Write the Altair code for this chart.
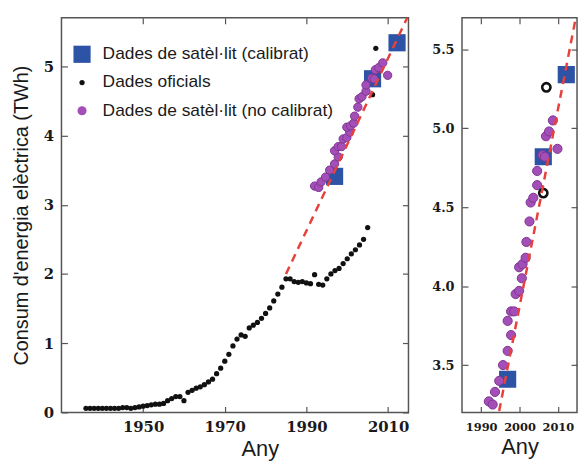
import altair as alt
import pandas as pd

# ---------------- data ----------------
anys_oficials = list(range(1936, 2006))
valors_oficials = [
    0.06, 0.06, 0.06, 0.06, 0.06, 0.06, 0.06, 0.06, 0.06, 0.07,
    0.07, 0.06, 0.07, 0.08, 0.09, 0.10, 0.11, 0.12, 0.12, 0.13,
    0.17, 0.20, 0.23, 0.23, 0.17, 0.29, 0.32, 0.35, 0.37, 0.40,
    0.44, 0.48, 0.56, 0.64, 0.74, 0.84, 0.96, 1.06, 1.12, 1.10,
    1.22, 1.26, 1.30, 1.36, 1.43, 1.51, 1.61, 1.71, 1.81, 1.93,
    1.93, 1.89, 1.88, 1.89, 1.87, 1.86, 1.99, 1.85, 1.84, 1.93,
    2.00, 2.05, 2.08, 2.15, 2.22, 2.29, 2.35, 2.42, 2.50, 2.67,
]
anys_oficials_recents = [2006.2, 2007.0]
valors_oficials_recents = [4.59, 5.26]

anys_sat_no_cal = [
    1992.0, 1993.0, 1993.6, 1994.7, 1995.7, 1996.9, 1997.8, 1996.9,
    1997.8, 1998.6, 1999.0, 1999.9, 2000.6, 1999.9, 2000.8, 2001.6,
    2001.8, 2002.6, 2002.9, 2003.6, 2004.6, 2004.6, 2006.0, 2006.6,
    2006.9, 2007.7, 2008.7, 2009.9,
]
valors_sat_no_cal = [
    3.27, 3.25, 3.33, 3.40, 3.50, 3.59, 3.69, 3.78,
    3.84, 3.84, 3.95, 3.97, 4.05, 4.12, 4.14, 4.18,
    4.28, 4.41, 4.53, 4.56, 4.64, 4.73, 4.83, 4.82,
    4.95, 4.98, 5.05, 4.87,
]
anys_sat_cal = [1996.9, 2006.2, 2012.2]
valors_sat_cal = [3.41, 4.82, 5.34]

anys_tendencia = [1985, 2015]
valors_tendencia = [2.0, 5.74]

S_CAL = "Dades de satèl·lit (calibrat)"
S_OF = "Dades oficials"
S_NC = "Dades de satèl·lit (no calibrat)"
series = [S_CAL, S_OF, S_NC]

BLUE = "#2c53a6"
BLACK = "#111111"
PURPLE = "#a44fb8"
PURPLE_EDGE = "#7d3592"
RED = "#e8403a"

df_cal = pd.DataFrame({"any": anys_sat_cal, "valor": valors_sat_cal, "serie": S_CAL})
df_of = pd.DataFrame({"any": anys_oficials + anys_oficials_recents,
                      "valor": valors_oficials + valors_oficials_recents, "serie": S_OF})
df_nc = pd.DataFrame({"any": anys_sat_no_cal, "valor": valors_sat_no_cal, "serie": S_NC})
df_tend = pd.DataFrame({"any": anys_tendencia, "valor": valors_tendencia})
df_rec = pd.DataFrame({"any": anys_oficials_recents, "valor": valors_oficials_recents})

# ---------------- styles ----------------
TICK = dict(domain=False, grid=False, ticks=True, tickSize=6, offset=-6,
            tickColor="#555555", tickWidth=1.2)
LAB = dict(labelFont="DejaVu Serif", labelColor="#1a1a1a", labelFontWeight="bold")
TIT = dict(titleFont="Liberation Sans", titleFontWeight="normal", titleColor="#1a1a1a")

color_enc = alt.Color(
    "serie:N",
    scale=alt.Scale(domain=series, range=[BLUE, BLACK, PURPLE]),
    legend=alt.Legend(
        orient="none", legendX=12, legendY=28, title=None,
        labelFont="Liberation Sans", labelFontSize=17.5, labelColor="#1a1a1a",
        labelOffset=12, labelLimit=400, rowPadding=9.5, padding=0,
        symbolStrokeWidth=0,
        symbolSize=alt.ExprRef(
            expr="datum.index === 0 ? 300 : (datum.index === 1 ? 28 : 85)"),
    ),
)
shape_enc = alt.Shape("serie:N", scale=alt.Scale(domain=series, range=["square", "circle", "circle"]))

# ---------------- left panel ----------------
xl = alt.Scale(domain=[1930, 2015], nice=False, zero=False)
yl = alt.Scale(domain=[0, 5.7], nice=False, zero=False)

cal_l = alt.Chart(df_cal).mark_point(filled=True, size=300, opacity=1).encode(
    x=alt.X("any:Q", scale=xl, axis=alt.Axis(
        values=[1950, 1970, 1990, 2010], format="d", title="Any",
        labelFontSize=15, labelPadding=7, titleFontSize=22, titlePadding=4,
        titleX=200, **TICK, **LAB, **TIT)),
    y=alt.Y("valor:Q", scale=yl, axis=alt.Axis(
        values=[0, 1, 2, 3, 4, 5], format="d",
        title="Consum d'energia elèctrica (TWh)",
        labelFontSize=15, labelPadding=8, titleFontSize=20, titlePadding=12,
        **TICK, **LAB, **TIT)),
    color=color_enc, shape=shape_enc,
)
of_l = alt.Chart(df_of).mark_point(filled=True, size=28, opacity=1).encode(
    x=alt.X("any:Q", scale=xl, axis=None),
    y=alt.Y("valor:Q", scale=yl, axis=None),
    color=color_enc, shape=shape_enc,
)
nc_l = alt.Chart(df_nc).mark_point(filled=True, size=70, opacity=1, stroke=PURPLE_EDGE,
                                   strokeWidth=1).encode(
    x=alt.X("any:Q", scale=xl, axis=None),
    y=alt.Y("valor:Q", scale=yl, axis=None),
    color=color_enc, shape=shape_enc,
)
linia_l = alt.Chart(df_tend).mark_line(color=RED, strokeWidth=2.5, strokeDash=[8, 6], clip=True).encode(
    x=alt.X("any:Q", scale=xl, axis=alt.Axis(orient="top", values=[1950, 1970, 1990, 2010],
                                             labels=False, title=None, **TICK)),
    y=alt.Y("valor:Q", scale=yl, axis=alt.Axis(orient="right", values=[0, 1, 2, 3, 4, 5],
                                               labels=False, title=None, **TICK)),
)

left = alt.layer(cal_l, of_l, nc_l, linia_l).resolve_axis(x="independent", y="independent").properties(
    width=350, height=398)

# ---------------- right panel ----------------
xr = alt.Scale(domain=[1985, 2015], nice=False, zero=False)
yr = alt.Scale(domain=[3.2, 5.7], nice=False, zero=False)

cal_r = alt.Chart(df_cal).mark_point(filled=True, shape="square", size=300, color=BLUE,
                                     opacity=1, clip=True).encode(
    x=alt.X("any:Q", scale=xr, axis=alt.Axis(
        values=[1990, 2000, 2010], format="d", title="Any",
        labelFontSize=11.5, labelPadding=9, titleFontSize=22, titlePadding=4,
        **TICK, **LAB, **TIT)),
    y=alt.Y("valor:Q", scale=yr, axis=alt.Axis(
        values=[3.5, 4.0, 4.5, 5.0, 5.5], format=".1f", title=None,
        labelFontSize=13, labelPadding=8, **TICK, **LAB)),
)
nc_r = alt.Chart(df_nc).mark_point(filled=True, shape="circle", size=85, color=PURPLE,
                                   stroke=PURPLE_EDGE, strokeWidth=1, opacity=1,
                                   clip=True).encode(
    x=alt.X("any:Q", scale=xr, axis=None),
    y=alt.Y("valor:Q", scale=yr, axis=None),
)
rec_r = alt.Chart(df_rec).mark_point(filled=False, shape="circle", size=70, color=BLACK,
                                     strokeWidth=2.6, opacity=1, clip=True).encode(
    x=alt.X("any:Q", scale=xr, axis=None),
    y=alt.Y("valor:Q", scale=yr, axis=None),
)
linia_r = alt.Chart(df_tend).mark_line(color=RED, strokeWidth=2.5, strokeDash=[8, 6], clip=True).encode(
    x=alt.X("any:Q", scale=xr, axis=alt.Axis(orient="top", values=[1990, 2000, 2010],
                                             labels=False, title=None, **TICK)),
    y=alt.Y("valor:Q", scale=yr, axis=alt.Axis(orient="right", values=[3.5, 4.0, 4.5, 5.0, 5.5],
                                               labels=False, title=None, **TICK)),
)

right = alt.layer(cal_r, nc_r, rec_r, linia_r).resolve_axis(x="independent", y="independent").properties(
    width=116, height=398)

chart = alt.hconcat(left, right, spacing=20).properties(
    padding={"left": 10, "top": 14, "right": 0, "bottom": 0},
    background="white",
).configure_view(stroke="#555555", strokeWidth=1.5)

chart.save("out.html", embed_options={"renderer": "svg", "actions": False})
